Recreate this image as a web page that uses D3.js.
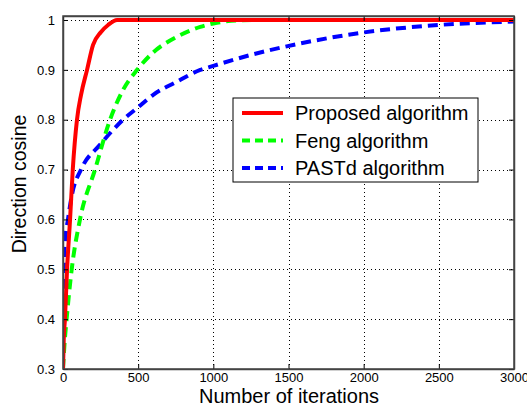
<!DOCTYPE html>
<html>
<head>
<meta charset="utf-8">
<script src="https://cdn.jsdelivr.net/npm/d3@7"></script>
<style>
  body { margin: 0; background: #fff; }
  text { font-family: Arial, "Liberation Sans", sans-serif; }
</style>
</head>
<body>
<div id="chart"></div>
<script>
// curve samples: [iteration, direction cosine]
const proposed = [[0,0.3],[5,0.36],[13,0.4],[27,0.5],[47,0.6],[65,0.7],[93,0.8],[120,0.85],[160,0.9],[200,0.95],[250,0.975],[300,0.99],[360,1],[3000,1]];
const feng = [[0,0.3],[10,0.35],[24,0.4],[58,0.5],[113,0.6],[213,0.7],[313,0.8],[400,0.86],[493,0.9],[600,0.935],[750,0.965],[913,0.986],[1000,0.993],[1150,0.999],[1300,1],[3000,1]];
const pastd = [[0,0.3],[3,0.45],[8,0.53],[15,0.56],[33,0.6],[60,0.65],[120,0.7],[247,0.75],[400,0.8],[500,0.825],[600,0.85],[750,0.875],[913,0.9],[1000,0.908],[1250,0.93],[1580,0.953],[2000,0.975],[2500,0.99],[3000,0.997]];

const xTicks = [0, 500, 1000, 1500, 2000, 2500, 3000];
const yTicks = [0.3, 0.4, 0.5, 0.6, 0.7, 0.8, 0.9, 1];

const series = [
  { name: 'Proposed algorithm', data: proposed, color: '#ff0000', dash: null },
  { name: 'Feng algorithm', data: feng, color: '#00ff00', dash: '10,6' },
  { name: 'PASTd algorithm', data: pastd, color: '#0000ff', dash: '10,6' }
];

const width = 527, height = 408;
const margin = { top: 16, right: 13, bottom: 39, left: 63 };

const svg = d3.select('#chart').append('svg')
  .attr('width', width)
  .attr('height', height);

const x = d3.scaleLinear().domain([0, 3000]).range([margin.left, width - margin.right]);
const y = d3.scaleLinear().domain([0.3, 1.008]).range([height - margin.bottom, margin.top]);

svg.append('clipPath').attr('id', 'clip')
  .append('rect')
  .attr('x', margin.left).attr('y', margin.top)
  .attr('width', x(3000) - margin.left).attr('height', y(0.3) - margin.top);

// grid
const grid = svg.append('g').attr('stroke', '#000').attr('stroke-width', 1).attr('stroke-dasharray', '1,3');
grid.selectAll('.gx').data(xTicks.slice(1, -1)).join('line')
  .attr('x1', d => Math.round(x(d)) + 0.5).attr('x2', d => Math.round(x(d)) + 0.5)
  .attr('y1', y.range()[0]).attr('y2', y.range()[1]);
grid.selectAll('.gy').data(yTicks.slice(1)).join('line')
  .attr('y1', d => Math.round(y(d)) + 0.5).attr('y2', d => Math.round(y(d)) + 0.5)
  .attr('x1', x.range()[0]).attr('x2', x.range()[1]);

// curves
const line = d3.line()
  .x(d => x(d[0]))
  .y(d => y(d[1]))
  .curve(d3.curveMonotoneX);

const plot = svg.append('g').attr('clip-path', 'url(#clip)');
plot.selectAll('path').data(series.slice().reverse()).join('path')
  .attr('fill', 'none')
  .attr('stroke', d => d.color)
  .attr('stroke-width', 4)
  .attr('stroke-dasharray', d => d.dash)
  .attr('d', d => line(d.data));

// axes with inward ticks
const xAxis = svg.append('g')
  .attr('transform', `translate(0,${y(0.3)})`)
  .call(d3.axisBottom(x).tickValues(xTicks).tickFormat(d3.format('d')).tickSizeInner(-5).tickSizeOuter(0).tickPadding(7));
const yAxis = svg.append('g')
  .attr('transform', `translate(${margin.left},0)`)
  .call(d3.axisLeft(y).tickValues(yTicks).tickFormat(d3.format('~g')).tickSizeInner(-5).tickSizeOuter(0).tickPadding(8));
svg.append('g')
  .attr('transform', `translate(${x(3000)},0)`)
  .call(d3.axisRight(y).tickValues(yTicks).tickFormat('').tickSizeInner(-5).tickSizeOuter(0));
svg.append('g')
  .attr('transform', `translate(0,${margin.top})`)
  .call(d3.axisTop(x).tickValues(xTicks).tickFormat('').tickSizeInner(-5).tickSizeOuter(0));

svg.selectAll('.domain').attr('stroke', '#444').attr('stroke-width', 1.5);
svg.selectAll('.tick line').attr('stroke', '#000');
svg.selectAll('.tick text').attr('font-size', 13).attr('fill', '#000')
  .attr('font-family', 'Arial, "Liberation Sans", sans-serif');
xAxis.selectAll('.tick text').attr('dy', '0.45em');

// box
svg.append('rect')
  .attr('x', margin.left).attr('y', margin.top)
  .attr('width', x(3000) - margin.left).attr('height', y(0.3) - margin.top)
  .attr('fill', 'none').attr('stroke', '#444').attr('stroke-width', 1.5);

// axis labels
svg.append('text')
  .attr('x', 289).attr('y', 403)
  .attr('text-anchor', 'middle').attr('font-size', 20)
  .text('Number of iterations');
svg.append('text')
  .attr('transform', `translate(26,184) rotate(-90)`)
  .attr('text-anchor', 'middle').attr('font-size', 19.5)
  .text('Direction cosine');

// legend
const legend = svg.append('g').attr('transform', 'translate(233,98)');
legend.append('rect')
  .attr('width', 245).attr('height', 84)
  .attr('fill', '#fff').attr('stroke', '#000').attr('stroke-width', 1);
const item = legend.selectAll('.item').data(series).join('g')
  .attr('transform', (d, i) => `translate(0,${15 + i * 27.5})`);
item.append('line')
  .attr('x1', 9).attr('x2', 50)
  .attr('stroke', d => d.color).attr('stroke-width', 4)
  .attr('stroke-dasharray', d => d.dash ? '8,5' : null);
item.append('text')
  .attr('x', 62).attr('dy', '0.35em')
  .attr('font-size', 20)
  .text(d => d.name);
</script>
</body>
</html>
